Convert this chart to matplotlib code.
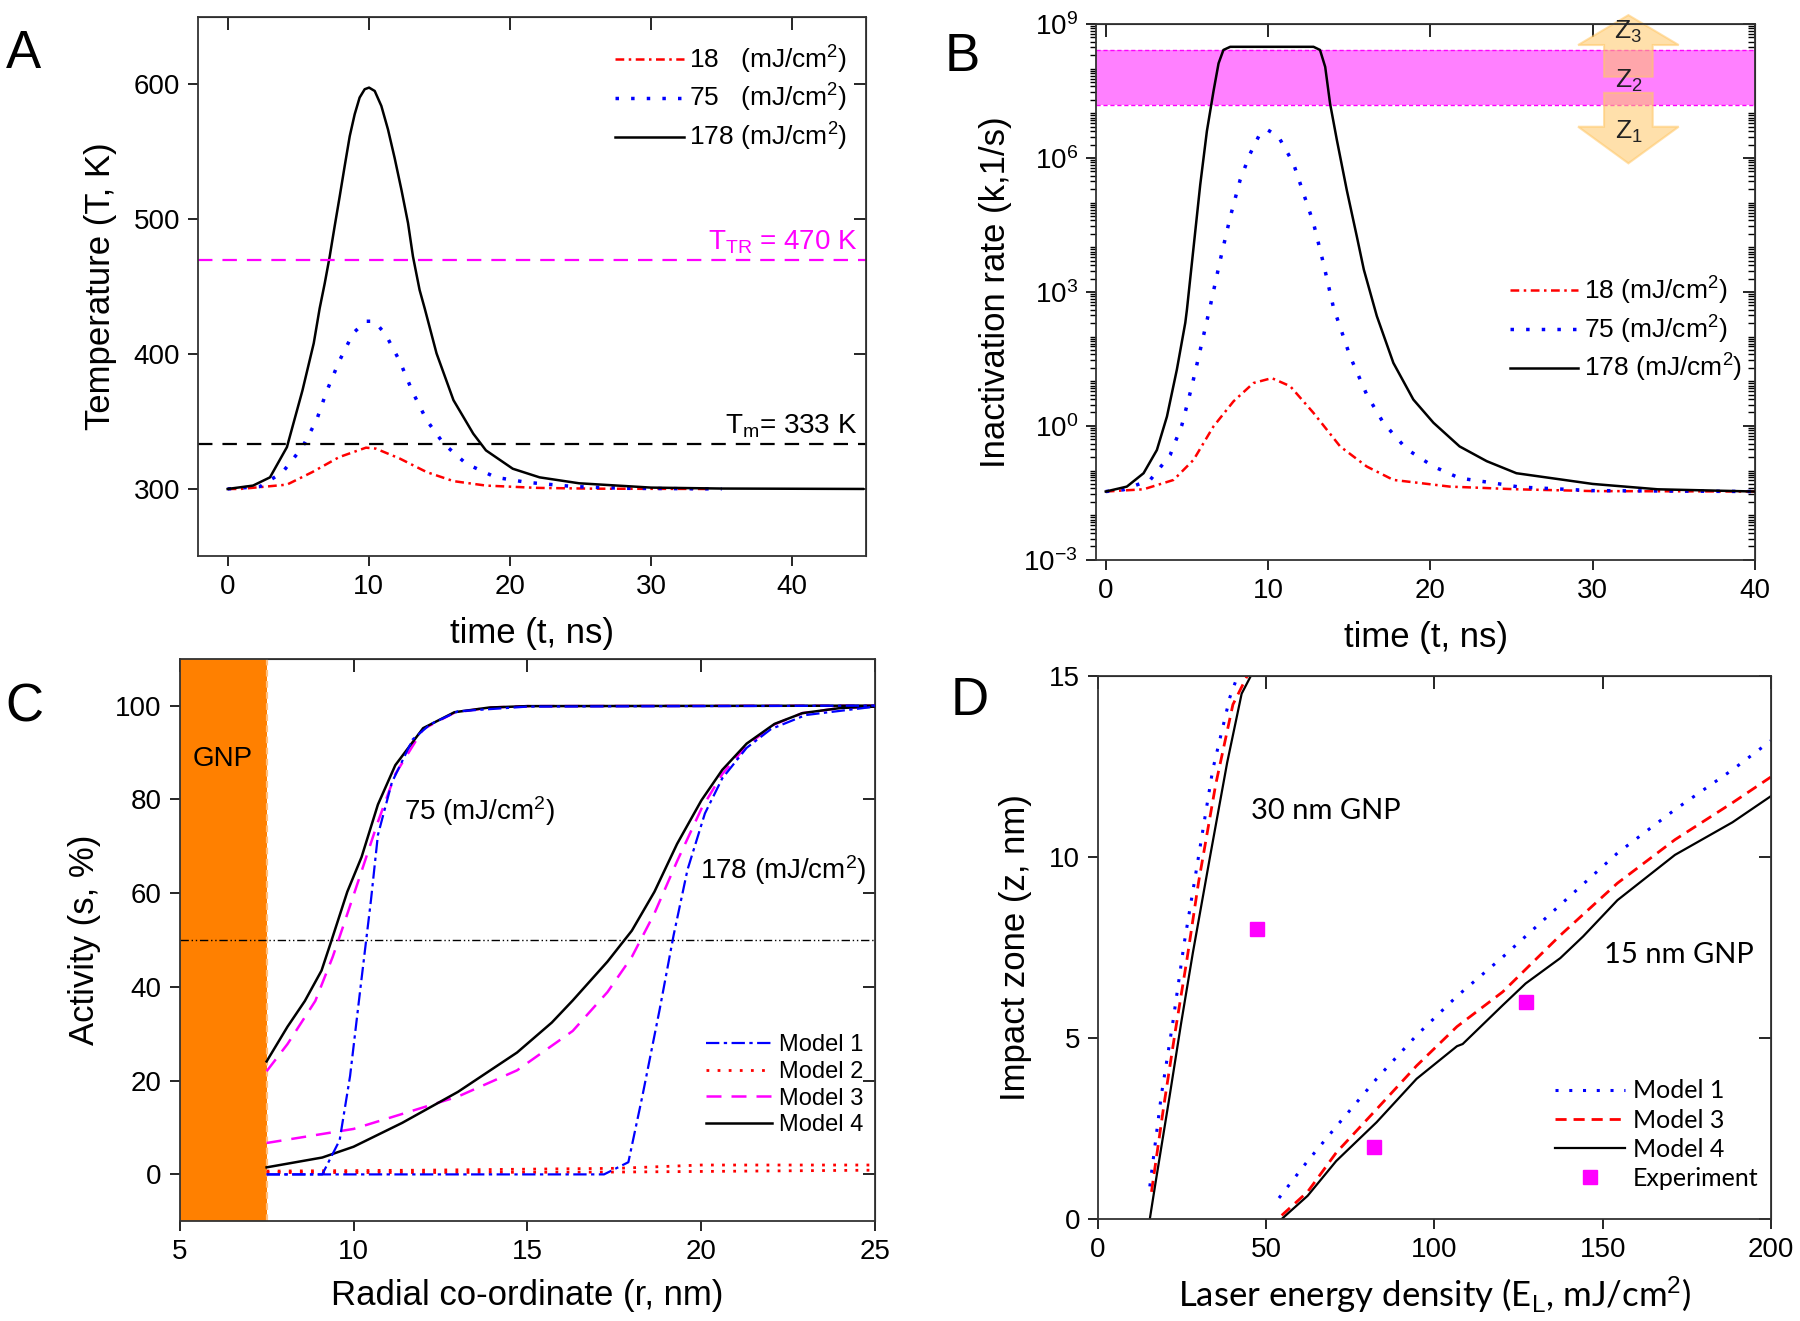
import numpy as np
import matplotlib
matplotlib.use('Agg')
from matplotlib import pyplot as plt
from matplotlib.patches import Polygon
from matplotlib.ticker import FixedLocator, LogLocator, NullFormatter

plt.rcParams['font.family'] = ['Liberation Sans', 'DejaVu Sans']
plt.rcParams['mathtext.fontset'] = 'custom'
plt.rcParams['mathtext.rm'] = 'Liberation Sans'
plt.rcParams['mathtext.it'] = 'Liberation Sans:italic'
plt.rcParams['mathtext.bf'] = 'Liberation Sans:bold'

# ---- panel A : temperature vs time ----
tA_18 = [0, 0.9, 4.2, 6.0, 7.9, 9.8, 10.5, 12.2, 14.1, 16.0, 18.3, 21.9, 26, 34]
TA_18 = [300, 300, 303.2, 312.5, 323.6, 330.6, 329.9, 322.5, 312.5, 305.8, 302.5, 300.8, 300.2, 300]
tA_75 = [0, 2.3, 3.9, 5.3, 6.3, 7.0, 7.9, 8.9, 9.8, 10.4, 11.2, 12.2, 13.1, 14.1, 15.3,
         16.9, 19.0, 21.2, 24.5, 28, 35]
TA_75 = [300, 301.8, 312.5, 331, 351, 372, 394.6, 415.6, 424.3, 424.3, 414.4, 394.6, 372, 351,
         333.6, 318.7, 308.6, 304.9, 301.8, 300.5, 300]
tA_178 = [0, 1.8, 3.0, 4.2, 5.3, 6.1, 6.52, 6.88, 7.23, 7.58, 7.94, 8.29, 8.65, 9.0, 9.35, 9.71,
          10.02, 10.42, 10.89, 11.36, 11.83, 12.31, 12.78, 13.13, 13.6, 13.96, 14.8, 16.0, 17.4,
          18.3, 20.2, 22.1, 24.9, 30, 35, 45]
TA_178 = [300, 302.5, 308.6, 331, 373, 408, 433.9, 452.5, 472.3, 494.6, 516.9, 539.2, 561.5,
          577.7, 590.1, 596.3, 597.5, 595, 583.9, 566.5, 545.4, 521.9, 497.1, 472.3, 447.5, 433.9,
          400.5, 365.8, 341, 328.6, 315, 308.6, 304.2, 301, 300.3, 300]
T_TR = 470
T_m = 333

# ---- panel B : inactivation rate vs time (log10 of k) ----
tB_18 = [0, 2.33, 4.18, 5.41, 6.64, 7.87, 9.1, 10.23, 11.36, 12.8, 14.44, 16.08, 17.72, 19.36,
         21.2, 23.3, 25.3, 30, 40]
lgkB_18 = [-1.47, -1.42, -1.21, -0.76, -0.01, 0.55, 0.96, 1.07, 0.89, 0.29, -0.46, -0.91, -1.21,
           -1.28, -1.36, -1.39, -1.42, -1.46, -1.47]
tB_75 = [0, 1.1, 2.74, 3.97, 4.69, 5.3, 5.82, 6.43, 7.05, 7.67, 8.28, 8.9, 9.51, 9.97, 10.64,
         11.56, 12.18, 12.8, 13.41, 14.03, 14.64, 15.05, 16.08, 17.1, 18.54, 20.19, 21.8, 23.9,
         25.5, 30, 40]
lgkB_75 = [-1.47, -1.43, -1.21, -0.65, 0.02, 0.88, 1.70, 2.67, 3.71, 4.68, 5.51, 6.10, 6.55,
           6.63, 6.48, 5.88, 5.21, 4.54, 3.64, 2.65, 2.0, 1.56, 0.70, 0.07, -0.52, -0.91, -1.17,
           -1.28, -1.37, -1.45, -1.47]
tB_178 = [0, 1.3, 2.33, 3.15, 3.77, 4.38, 4.9, 5.0, 5.41, 5.82, 6.23, 6.64, 6.95, 7.25, 7.67,
          12.8, 13.2, 13.52, 13.82, 14.24, 14.85, 15.47, 15.9, 16.7, 17.72, 18.95, 20.19, 21.8,
          23.47, 25.3, 30, 34, 40]
lgkB_178 = [-1.47, -1.36, -1.06, -0.54, 0.21, 1.26, 2.31, 2.6, 4.0, 5.4, 6.6, 7.5, 8.12, 8.42,
            8.49, 8.49, 8.42, 8.04, 7.22, 6.40, 5.28, 4.24, 3.5, 2.46, 1.41, 0.59, 0.07, -0.46,
            -0.79, -1.06, -1.3, -1.42, -1.47]
band_lo, band_hi = 1.55e7, 2.6e8

# ---- panel C : activity vs radius ----
r75_m1 = [7.5, 9.1, 9.6, 9.9, 10.2, 10.5, 10.7, 11.1, 11.7, 12.2, 13.0, 15, 25]
s75_m1 = [0, 0, 7.3, 21, 39.9, 58.5, 72.4, 83.6, 92.8, 96, 98.8, 99.8, 100]
r75_m2 = [7.5, 12, 17.6, 25]
s75_m2 = [0.4, 0.4, 0.5, 0.9]
r75_m3 = [7.5, 8.1, 8.9, 9.4, 9.7, 10.2, 10.7, 11.2, 12.0, 12.9, 13.9, 15, 25]
s75_m3 = [22.0, 27.8, 37, 46.4, 52.9, 64, 75.2, 85.4, 95, 98.5, 99.6, 99.9, 100]
r75_m4 = [7.5, 8.1, 8.6, 9.08, 9.37, 9.82, 10.23, 10.7, 11.2, 12.0, 12.9, 13.9, 15, 25]
s75_m4 = [24.1, 31.5, 37, 43.5, 50, 60.3, 67.7, 78.9, 87.3, 95.2, 98.6, 99.6, 99.9, 100]

r178_m1 = [7.5, 17.2, 17.9, 18.3, 18.8, 19.2, 19.6, 20.1, 20.6, 21.3, 22.0, 23, 25]
s178_m1 = [0, 0, 2.6, 16.6, 35.2, 51, 65, 77, 84.5, 91, 95, 98, 99.8]
r178_m2 = [7.5, 12, 17.6, 20, 25]
s178_m2 = [0.7, 0.9, 1.3, 2.0, 2.0]
r178_m3 = [7.5, 10, 11.4, 13.0, 14.7, 16.3, 17.3, 18.0, 18.65, 19.3, 20, 20.6, 21.3, 22.1, 22.9, 24, 25]
s178_m3 = [6.7, 9.7, 12.9, 16.6, 22.2, 30.6, 38.9, 46.4, 55.7, 66.8, 78, 85.4, 91.5, 96, 98.4, 99.5, 99.8]
r178_m4 = [7.5, 9.1, 10, 11.4, 13.0, 14.7, 15.7, 16.3, 17.3, 18.0, 18.65, 19.3, 20, 20.6, 21.3,
           22.1, 22.9, 24, 25]
s178_m4 = [1.5, 3.6, 5.9, 11, 17.6, 26, 32.4, 37.1, 45.4, 52, 60.3, 70.5, 79.8, 86.3, 91.9,
           96.1, 98.4, 99.5, 99.8]
r_gnp = 7.5

# ---- panel D : impact zone vs laser energy density ----
E30_m1 = [15.4, 18.8, 22.2, 25.6, 29, 34.1, 39.2, 42.7]
z30_m1 = [0.9, 3.4, 5.4, 7.6, 9.5, 12.4, 14.4, 15.3]
E30_m3 = [15.9, 19.6, 23, 26.5, 29.9, 35, 40.1, 44.4, 45.5]
z30_m3 = [0.75, 3.15, 5.2, 7.2, 9.3, 12, 14.2, 15.0, 15.3]
E30_m4 = [15.4, 17.1, 21.3, 24.7, 28.2, 33.3, 38.4, 42.7, 46.6]
z30_m4 = [0, 1.0, 3.4, 5.4, 7.35, 10, 12.6, 14.5, 15.2]

E15_m1 = [53.8, 62.3, 70.8, 82.8, 94.7, 106.7, 120.3, 137.4, 154.4, 171.5, 188.6, 200]
z15_m1 = [0.58, 1.6, 2.55, 3.87, 5.07, 6.15, 7.23, 8.67, 10.1, 11.3, 12.4, 13.2]
E15_m3 = [54.6, 62.3, 70.8, 82.8, 94.7, 106.7, 120.3, 137.4, 154.4, 171.5, 188.6, 200]
z15_m3 = [0.1, 0.75, 1.83, 3.03, 4.23, 5.31, 6.27, 7.83, 9.27, 10.47, 11.49, 12.2]
E15_m4 = [54.6, 62.3, 70.8, 82.8, 94.7, 106.7, 108.4, 120.3, 127.1, 137.4, 144.2, 154.4,
          171.5, 188.6, 200]
z15_m4 = [0, 0.64, 1.6, 2.67, 3.87, 4.77, 4.83, 5.9, 6.5, 7.2, 7.8, 8.8, 10.05, 10.95, 11.67]
E_exp = [47.3, 82.1, 127.1]
z_exp = [8.0, 2.0, 6.0]

red, blue, mag = '#FF0000', '#0000FF', '#FF00FF'
dashdot = (0, (3.5, 1.8, 1, 1.8))
dotted = (0, (1, 3.5))

fig = plt.figure(figsize=(18, 13.21), dpi=100)


def frame(ax, xt, yt):
    ax.tick_params(direction='out', length=7, width=1.2, labelsize=20, pad=6)
    for s in ax.spines.values():
        s.set_linewidth(1.3)
        s.set_color('#333333')
    ax.set_xticks(xt)
    ax.set_yticks(yt)
    top = ax.secondary_xaxis('top')
    top.set_xticks(xt)
    top.tick_params(direction='in', length=9, width=1.2, labeltop=False)
    right = ax.secondary_yaxis('right')
    right.set_yticks(yt)
    right.tick_params(direction='in', length=9, width=1.2, labelright=False)


# ---- A ----
axA = fig.add_axes([0.110, 0.5788, 0.3709, 0.4085])
axA.plot(tA_18, TA_18, color=red, lw=1.8, ls=dashdot, label='18   (mJ/cm$^2$)')
axA.plot(tA_75, TA_75, color=blue, lw=2.5, ls=dotted, label='75   (mJ/cm$^2$)')
axA.plot(tA_178, TA_178, color='black', lw=1.8, label='178 (mJ/cm$^2$)')
axA.axhline(T_TR, color=mag, lw=1.6, ls=(0, (6.5, 4.5)))
axA.axhline(T_m, color='black', lw=1.6, ls=(0, (6.5, 4.5)))
axA.text(44.6, T_TR + 3, r'T$_{\rm TR}$ = 470 K', color=mag, fontsize=20, ha='right', va='bottom')
axA.text(44.6, T_m + 3, r'T$_{\rm m}$= 333 K', color='black', fontsize=20, ha='right', va='bottom')
axA.set_xlim(-2.1, 45.2)
axA.set_ylim(250, 650)
frame(axA, [0, 10, 20, 30, 40], [300, 400, 500, 600])
axA.set_xlabel('time (t, ns)', fontsize=25, labelpad=12)
axA.set_ylabel('Temperature (T, K)', fontsize=25, labelpad=12)
axA.legend(loc='upper right', bbox_to_anchor=(1.0, 0.985), frameon=False, fontsize=19,
           handlelength=2.6, handletextpad=0.2, labelspacing=0.25, borderaxespad=0.3)

# ---- B ----
axB = fig.add_axes([0.6089, 0.5762, 0.3661, 0.4056])
axB.set_yscale('log')
axB.axhspan(band_lo, band_hi, color='#FF80FF', lw=0, zorder=1)
axB.axhline(band_lo, color=mag, lw=1.0, ls=(0, (3, 2)), zorder=1)
axB.axhline(band_hi, color=mag, lw=1.0, ls=(0, (3, 2)), zorder=1)
axB.plot(tB_18, 10.0 ** np.array(lgkB_18), color=red, lw=1.8, ls=dashdot,
         label='18 (mJ/cm$^2$)', zorder=3)
axB.plot(tB_75, 10.0 ** np.array(lgkB_75), color=blue, lw=2.5, ls=dotted,
         label='75 (mJ/cm$^2$)', zorder=3)
axB.plot(tB_178, 10.0 ** np.array(lgkB_178), color='black', lw=1.8,
         label='178 (mJ/cm$^2$)', zorder=3)
axB.set_xlim(-0.6, 40)
axB.set_ylim(1e-3, 1e9)

# double arrow marking zones Z1..Z3
xc, hw, sw = 32.2, 3.1, 1.5
up = [(xc - sw, 10**7.82), (xc - sw, 10**8.53), (xc - hw, 10**8.53), (xc, 10**9.2),
      (xc + hw, 10**8.53), (xc + sw, 10**8.53), (xc + sw, 10**7.82)]
dn = [(xc - sw, 10**7.46), (xc - sw, 10**6.70), (xc - hw, 10**6.70), (xc, 10**5.88),
      (xc + hw, 10**6.70), (xc + sw, 10**6.70), (xc + sw, 10**7.46)]
for pts in (up, dn):
    axB.add_patch(Polygon(pts, closed=True, facecolor='#FFC766', edgecolor='#FFC766',
                          alpha=0.55, lw=1.5, zorder=2, clip_on=False))
axB.text(xc, 10**8.82, 'Z$_3$', fontsize=19, ha='center', va='center', color='#222222', zorder=4)
axB.text(xc, 10**7.72, 'Z$_2$', fontsize=19, ha='center', va='center', color='#222222', zorder=4)
axB.text(xc, 10**6.58, 'Z$_1$', fontsize=19, ha='center', va='center', color='#222222', zorder=4)

axB.tick_params(direction='out', length=7, width=1.2, labelsize=20, pad=6)
axB.tick_params(which='minor', direction='out', length=4, width=1.0)
for s in axB.spines.values():
    s.set_linewidth(1.3)
    s.set_color('#333333')
axB.set_xticks([0, 10, 20, 30, 40])
ymaj = [1e-3, 1e0, 1e3, 1e6, 1e9]
axB.yaxis.set_major_locator(FixedLocator(ymaj))
axB.yaxis.set_minor_locator(LogLocator(base=10, subs=np.arange(1, 10), numticks=40))
axB.yaxis.set_minor_formatter(NullFormatter())
topB = axB.secondary_xaxis('top')
topB.set_xticks([0, 10, 20, 30, 40])
topB.tick_params(direction='in', length=9, width=1.2, labeltop=False)
rB = axB.secondary_yaxis('right')
rB.yaxis.set_major_locator(FixedLocator(ymaj))
rB.yaxis.set_minor_locator(LogLocator(base=10, subs=np.arange(1, 10), numticks=40))
rB.yaxis.set_minor_formatter(NullFormatter())
rB.tick_params(which='both', direction='in', width=1.0, labelright=False)
rB.tick_params(which='major', length=9, width=1.2)
rB.tick_params(which='minor', length=5)
axB.set_xlabel('time (t, ns)', fontsize=25, labelpad=12)
axB.set_ylabel('Inactivation rate (k,1/s)', fontsize=25, labelpad=8)
axB.legend(loc='center right', bbox_to_anchor=(1.0, 0.43), frameon=False, fontsize=19,
           handlelength=2.6, handletextpad=0.2, labelspacing=0.25, borderaxespad=0.1)

# ---- C ----
axC = fig.add_axes([0.0998, 0.0755, 0.3865, 0.4258])
axC.axvspan(5, r_gnp, color='#FF8000', lw=0, zorder=1)
axC.axvline(r_gnp, color='#FFC080', lw=1.6, ls=(0, (3, 2)), zorder=2)
axC.axhline(50, color='black', lw=1.0, ls=(0, (6, 2, 1, 2, 1, 2)), zorder=2)
axC.plot(r75_m2, s75_m2, color=red, lw=2.0, ls=(0, (1, 3)), zorder=3)
axC.plot(r178_m2, s178_m2, color=red, lw=2.0, ls=(0, (1, 3)), label='Model 2', zorder=3)
axC.plot(r75_m3, s75_m3, color=mag, lw=1.8, ls=(0, (6, 4)), zorder=3)
axC.plot(r178_m3, s178_m3, color=mag, lw=1.8, ls=(0, (6, 4)), label='Model 3', zorder=3)
axC.plot(r75_m4, s75_m4, color='black', lw=1.8, zorder=4)
axC.plot(r178_m4, s178_m4, color='black', lw=1.8, label='Model 4', zorder=4)
axC.plot(r75_m1, s75_m1, color=blue, lw=1.6, ls=(0, (6, 2, 1.5, 2)), zorder=5)
axC.plot(r178_m1, s178_m1, color=blue, lw=1.6, ls=(0, (6, 2, 1.5, 2)), label='Model 1', zorder=5)
axC.text(6.25, 88.7, 'GNP', fontsize=20, ha='center', va='center', zorder=6)
axC.text(11.45, 77.5, '75 (mJ/cm$^2$)', fontsize=20, ha='left', va='center', zorder=6)
axC.text(19.95, 65, '178 (mJ/cm$^2$)', fontsize=20, ha='left', va='center', zorder=6)
axC.set_xlim(5, 25)
axC.set_ylim(-10, 110)
frame(axC, [5, 10, 15, 20, 25], [0, 20, 40, 60, 80, 100])
axC.set_xlabel('Radial co-ordinate (r, nm)', fontsize=25, labelpad=10)
axC.set_ylabel('Activity (s, %)', fontsize=25, labelpad=10)
h, l = axC.get_legend_handles_labels()
order = [l.index(m) for m in ['Model 1', 'Model 2', 'Model 3', 'Model 4']]
axC.legend([h[i] for i in order], [l[i] for i in order], loc='lower right',
           bbox_to_anchor=(1.0, 0.13), frameon=False, fontsize=17,
           handlelength=2.8, handletextpad=0.3, labelspacing=0.2, borderaxespad=0.1)

# ---- D ----
axD = fig.add_axes([0.61, 0.0772, 0.3738, 0.4114])
axD.plot(E30_m1, z30_m1, color=blue, lw=2.2, ls=dotted)
axD.plot(E15_m1, z15_m1, color=blue, lw=2.2, ls=dotted, label='Model 1')
axD.plot(E30_m3, z30_m3, color=red, lw=2.0, ls=(0, (4, 2.5)))
axD.plot(E15_m3, z15_m3, color=red, lw=2.0, ls=(0, (4, 2.5)), label='Model 3')
axD.plot(E30_m4, z30_m4, color='black', lw=1.6)
axD.plot(E15_m4, z15_m4, color='black', lw=1.6, label='Model 4')
axD.plot(E_exp, z_exp, ls='none', marker='s', ms=10, color=mag, label='Experiment')
axD.text(45.5, 11.25, '30 nm GNP', fontsize=21, family='Lato', ha='left', va='center')
axD.text(150.5, 7.3, '15 nm GNP', fontsize=21, family='Lato', ha='left', va='center')
axD.set_xlim(0, 200)
axD.set_ylim(0, 15)
frame(axD, [0, 50, 100, 150, 200], [0, 5, 10, 15])
axD.set_xlabel('Laser energy density (E$_{\\rm L}$, mJ/cm$^2$)', fontsize=25, family='Lato',
               labelpad=8)
axD.set_ylabel('Impact zone (z, nm)', fontsize=25, labelpad=12)
axD.legend(loc='lower right', bbox_to_anchor=(1.0, 0.03), frameon=False,
           prop={'family': 'Lato', 'size': 18}, handlelength=2.8, handletextpad=0.3,
           labelspacing=0.25, borderaxespad=0.1)

# panel letters
for lab, x, y in [('A', 0.003, 0.978), ('B', 0.525, 0.976), ('C', 0.003, 0.483), ('D', 0.528, 0.488)]:
    fig.text(x, y, lab, fontsize=38, ha='left', va='top')

fig.savefig('out.png', dpi=100)
